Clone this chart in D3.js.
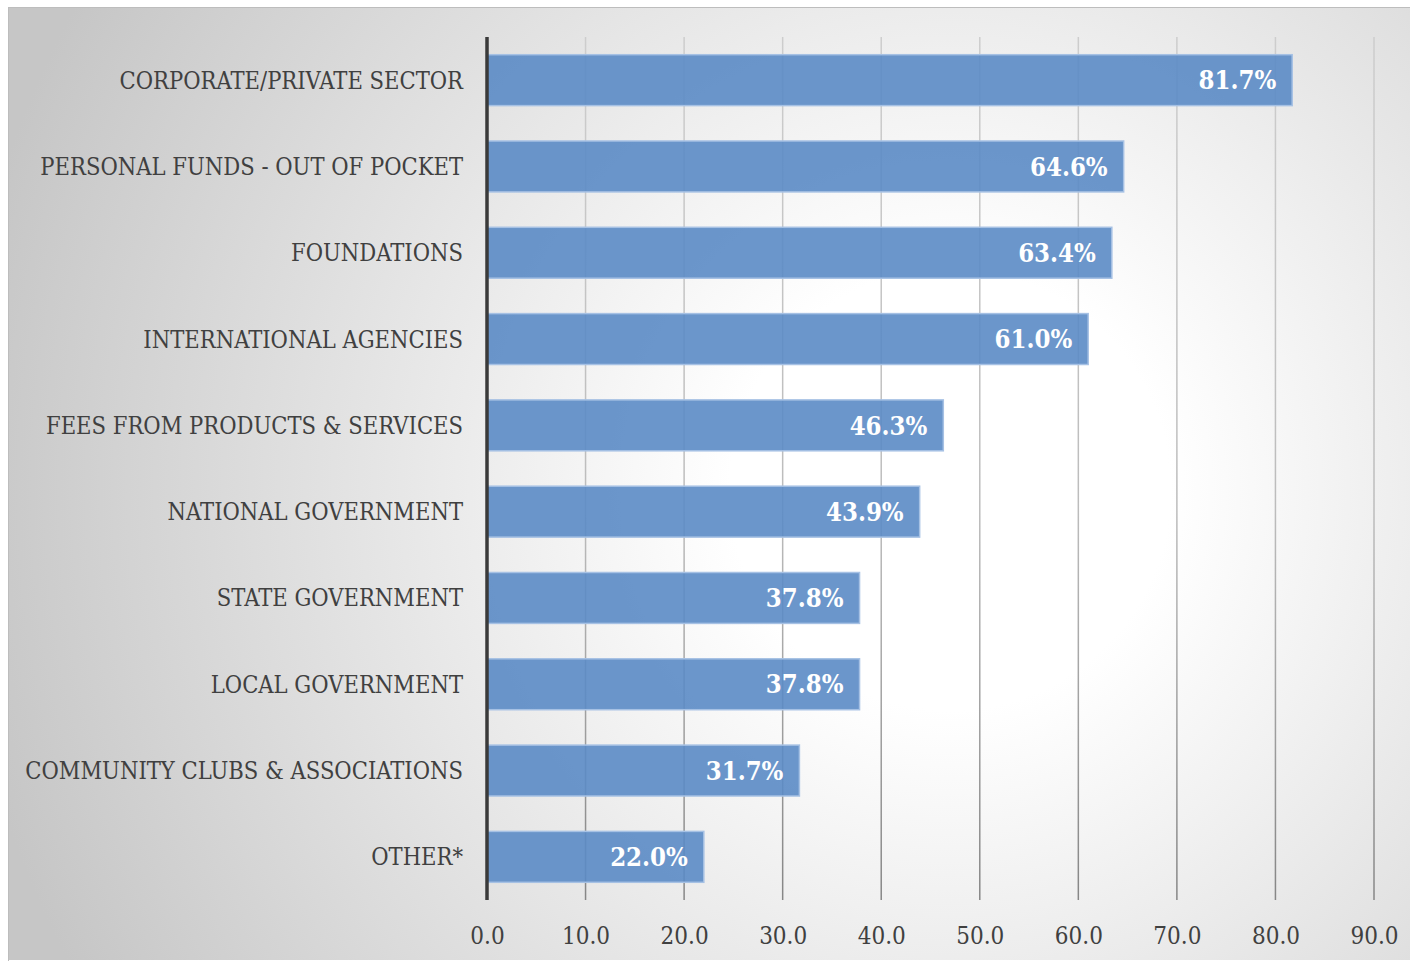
<!DOCTYPE html>
<html>
<head>
<meta charset="utf-8">
<script src="https://cdn.jsdelivr.net/npm/d3@7"></script>
<style>
  html, body { margin: 0; padding: 0; background: #ffffff; }
  svg { display: block; }
</style>
</head>
<body>
<svg id="chart" width="1410" height="961"></svg>
<script>
// Funding sources, share of respondents (%)
const categories = [
  "CORPORATE/PRIVATE SECTOR",
  "PERSONAL FUNDS - OUT OF POCKET",
  "FOUNDATIONS",
  "INTERNATIONAL AGENCIES",
  "FEES FROM PRODUCTS & SERVICES",
  "NATIONAL GOVERNMENT",
  "STATE GOVERNMENT",
  "LOCAL GOVERNMENT",
  "COMMUNITY CLUBS & ASSOCIATIONS",
  "OTHER*"
];
const values = [81.7, 64.6, 63.4, 61.0, 46.3, 43.9, 37.8, 37.8, 31.7, 22.0];
const xTicks = [0, 10, 20, 30, 40, 50, 60, 70, 80, 90];

const W = 1410, H = 961;
const margin = { top: 37, bottom: 61, left: 487 };
const plotWidth = 887;
const svg = d3.select("#chart");
const defs = svg.append("defs");

// Soft radial backdrop: bright centre fading to grey edges
const bg = defs.append("radialGradient")
  .attr("id", "bgGrad")
  .attr("gradientUnits", "userSpaceOnUse")
  .attr("cx", 950).attr("cy", 490).attr("r", 1000);
bg.append("stop").attr("offset", "0%").attr("stop-color", "#ffffff");
bg.append("stop").attr("offset", "22%").attr("stop-color", "#ffffff");
bg.append("stop").attr("offset", "100%").attr("stop-color", "#c6c6c6");

// Gridlines darken toward the bottom of the plot
const gridGrad = defs.append("linearGradient")
  .attr("id", "gridGrad")
  .attr("gradientUnits", "userSpaceOnUse")
  .attr("x1", 0).attr("x2", 0)
  .attr("y1", margin.top).attr("y2", H - margin.bottom);
gridGrad.append("stop").attr("offset", "0%").attr("stop-color", "#cdcdcd");
gridGrad.append("stop").attr("offset", "55%").attr("stop-color", "#bcbcbc");
gridGrad.append("stop").attr("offset", "100%").attr("stop-color", "#868686");

svg.append("rect")
  .attr("x", 8).attr("y", 7)
  .attr("width", W - 8).attr("height", H - 8)
  .attr("fill", "url(#bgGrad)");
svg.append("line")
  .attr("x1", 8).attr("x2", W).attr("y1", 7.5).attr("y2", 7.5)
  .attr("stroke", "#bdbdbd").attr("stroke-width", 1);
svg.append("line")
  .attr("x1", 8.5).attr("x2", 8.5).attr("y1", 7).attr("y2", H)
  .attr("stroke", "#bdbdbd").attr("stroke-width", 1);

const x = d3.scaleLinear()
  .domain([0, 90])
  .range([margin.left, margin.left + plotWidth]);

const y = d3.scaleBand()
  .domain(categories)
  .range([margin.top, H - margin.bottom])
  .paddingInner(0.41)
  .paddingOuter(0.205);

const font = "'DejaVu Serif Condensed', 'DejaVu Serif', serif";

// Vertical gridlines
svg.append("g")
  .selectAll("line")
  .data(xTicks.filter(d => d > 0))
  .join("line")
  .attr("x1", d => x(d)).attr("x2", d => x(d))
  .attr("y1", margin.top).attr("y2", H - margin.bottom)
  .attr("stroke", "url(#gridGrad)")
  .attr("stroke-width", 1.5);

// Bars
svg.append("g")
  .selectAll("rect")
  .data(values)
  .join("rect")
  .attr("x", x(0))
  .attr("y", (d, i) => y(categories[i]))
  .attr("width", d => x(d) - x(0))
  .attr("height", y.bandwidth())
  .attr("fill", "#5b8bc5")
  .attr("fill-opacity", 0.9)
  .attr("stroke", "#a6c1e4")
  .attr("stroke-width", 1.5);

// Value labels inside bar ends
svg.append("g")
  .selectAll("text")
  .data(values)
  .join("text")
  .attr("x", d => x(d) - 16)
  .attr("y", (d, i) => y(categories[i]) + y.bandwidth() / 2)
  .attr("dy", "0.36em")
  .attr("text-anchor", "end")
  .attr("fill", "#ffffff")
  .attr("font-family", font)
  .attr("font-weight", "bold")
  .attr("font-size", 25.5)
  .text(d => d.toFixed(1) + "%");

// Category labels
svg.append("g")
  .selectAll("text")
  .data(categories)
  .join("text")
  .attr("x", margin.left - 24)
  .attr("y", d => y(d) + y.bandwidth() / 2)
  .attr("dy", "0.36em")
  .attr("text-anchor", "end")
  .attr("fill", "#404040")
  .attr("font-family", font)
  .attr("font-size", 23.5)
  .text(d => d);

// Bottom tick labels
const xAxis = svg.append("g")
  .attr("transform", `translate(0,${H - margin.bottom})`)
  .call(d3.axisBottom(x).tickValues(xTicks).tickFormat(d3.format(".1f")).tickSize(0).tickPadding(27));
xAxis.select(".domain").remove();
xAxis.selectAll("text")
  .attr("fill", "#404040")
  .attr("font-family", font)
  .attr("font-size", 24);

// Category axis line
svg.append("line")
  .attr("x1", x(0)).attr("x2", x(0))
  .attr("y1", margin.top).attr("y2", H - margin.bottom)
  .attr("stroke", "#3a3a3a")
  .attr("stroke-width", 3.5);
</script>
</body>
</html>
